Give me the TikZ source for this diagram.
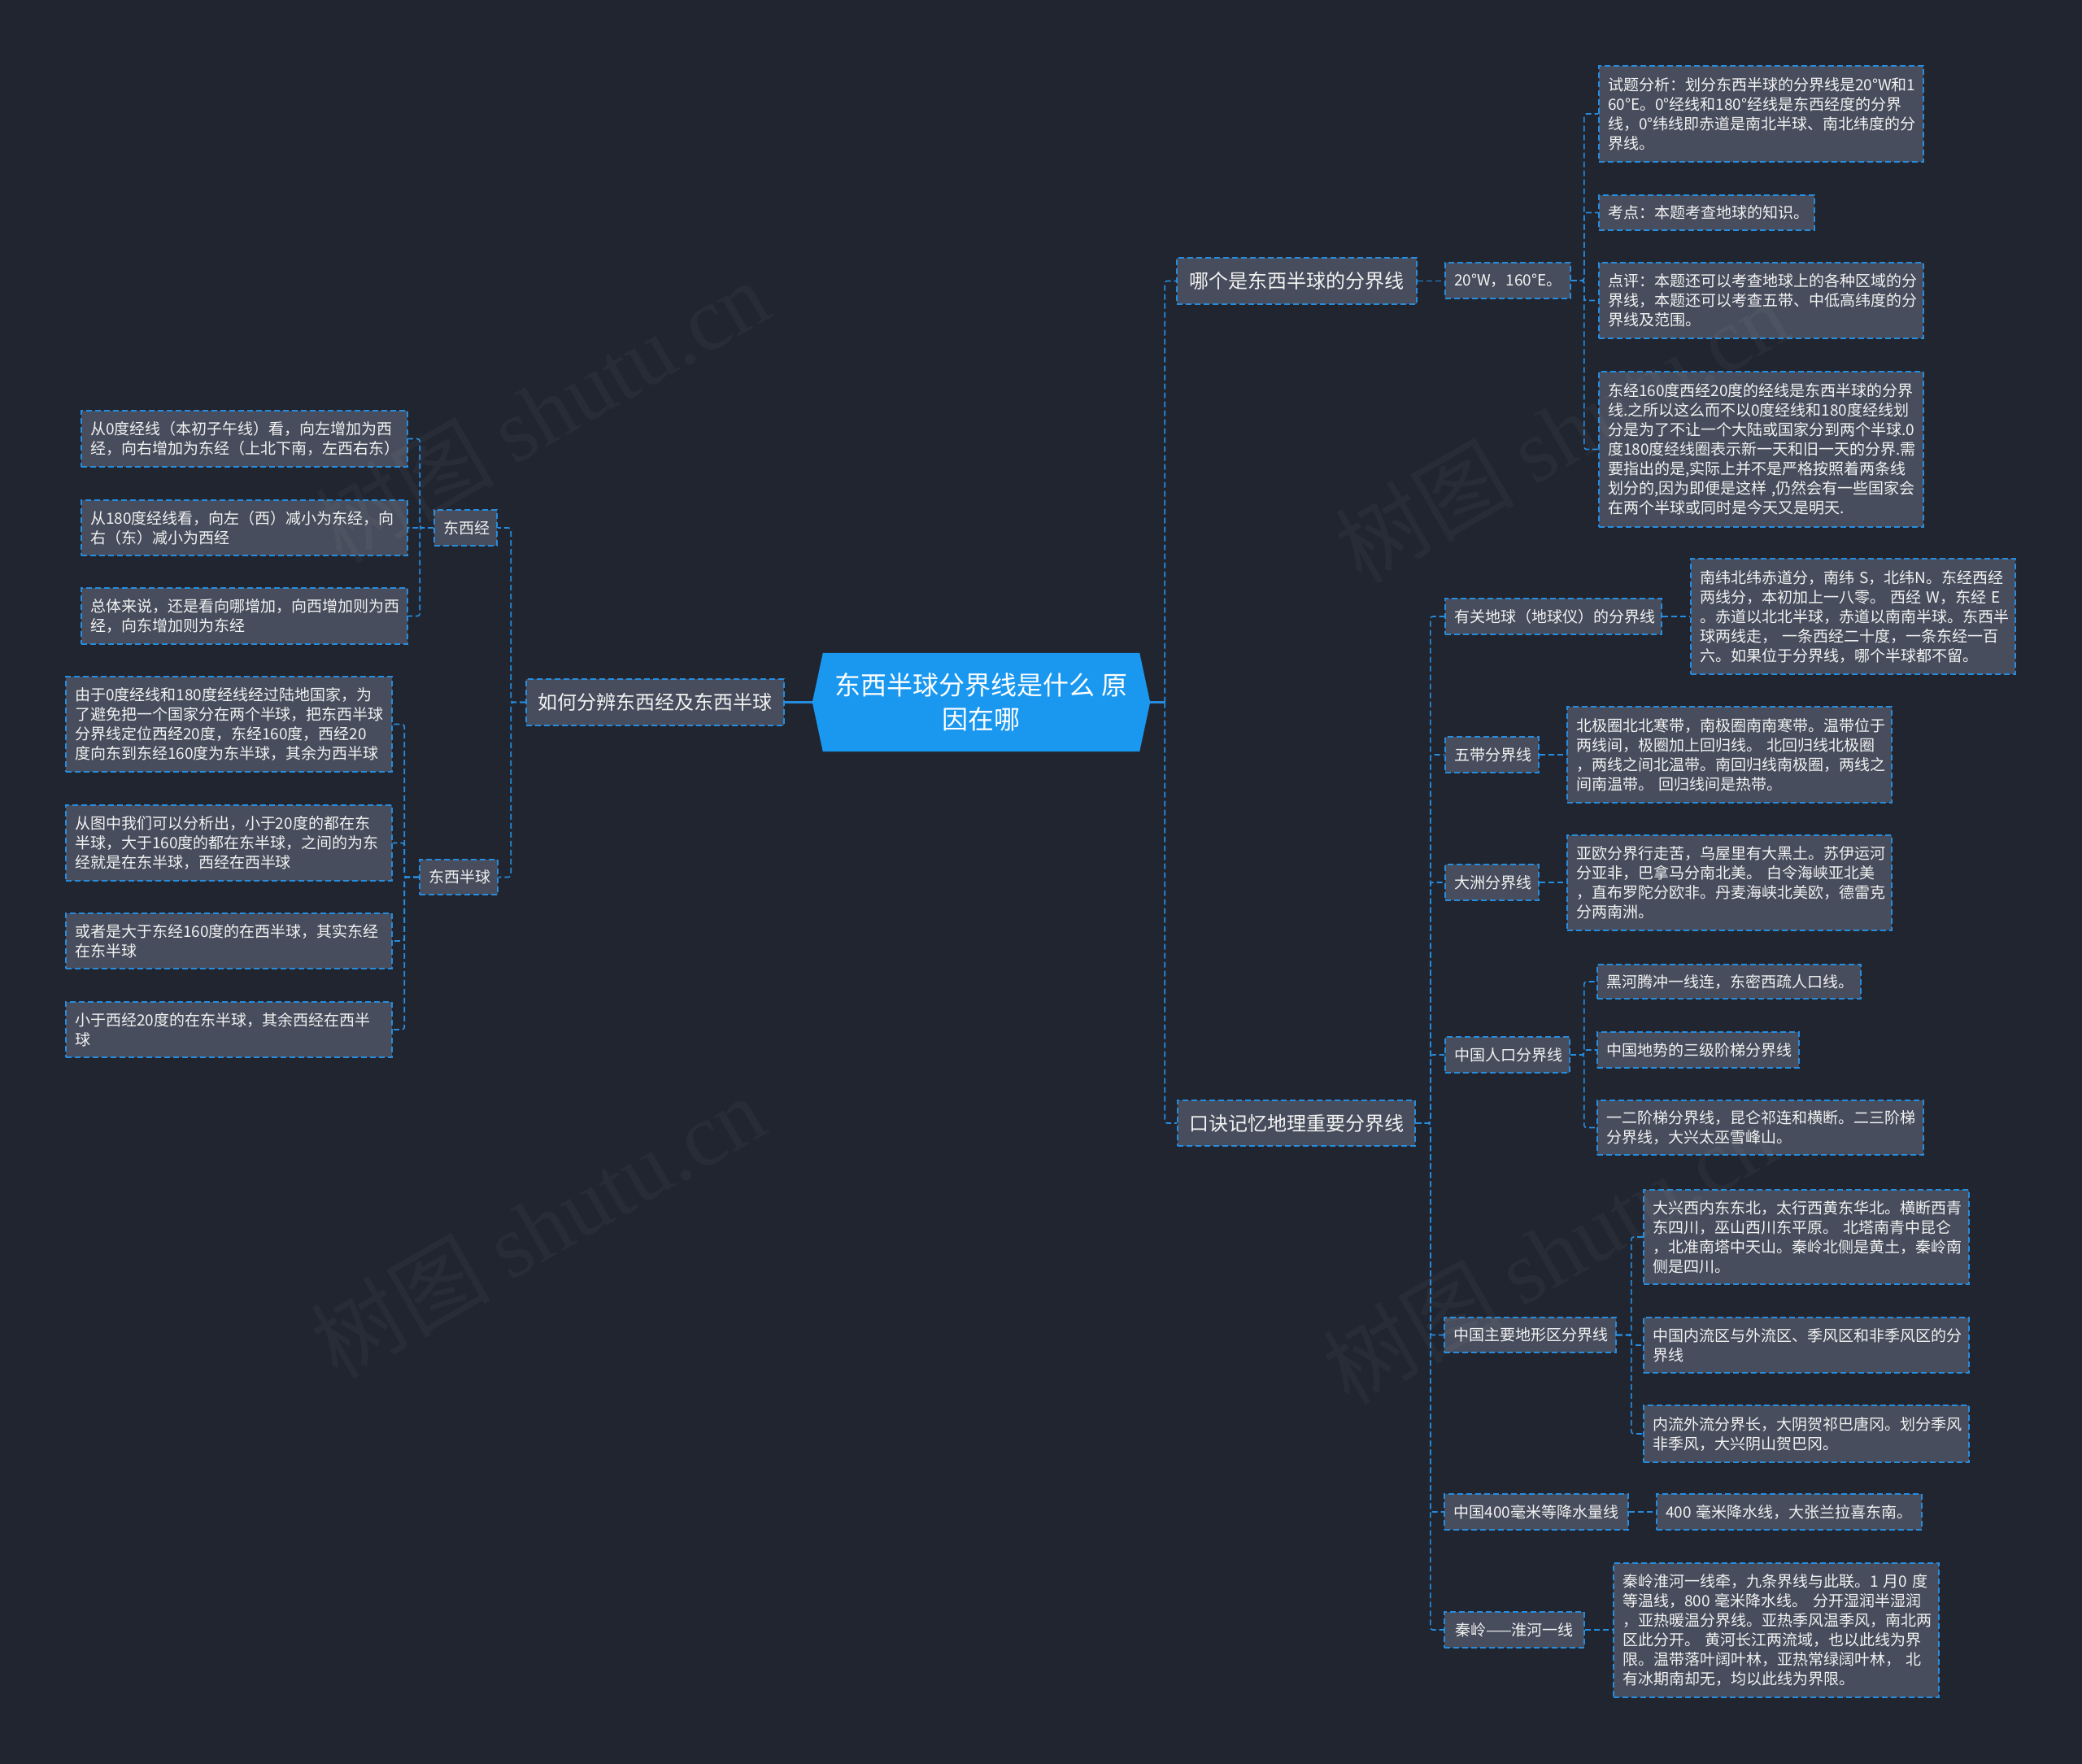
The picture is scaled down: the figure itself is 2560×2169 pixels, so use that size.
\documentclass[tikz,border=0pt]{standalone}
\usepackage{fontspec}
\setmainfont{Noto Sans CJK SC}
\newfontfamily\wmserif{Liberation Serif}
\definecolor{bgc}{RGB}{33,37,48}
\definecolor{nodefill}{RGB}{71,77,92}
\definecolor{lineblue}{RGB}{38,140,222}
\definecolor{rootc}{RGB}{26,152,240}
\definecolor{txt}{RGB}{242,242,242}
\pgfdeclarelayer{back}
\pgfdeclarelayer{mid}
\pgfsetlayers{back,mid,main}
\tikzset{
  box/.style={rectangle, draw=lineblue, fill=nodefill, line width=1.6pt,
    dash pattern=on 7pt off 4pt, text=txt, inner xsep=11pt, inner ysep=0pt},
  leaf/.style={box, align=left, font=\fontsize{19}{24}\selectfont},
  lvltwo/.style={box, align=center, font=\fontsize{19}{24}\selectfont},
  lvlone/.style={box, align=center, font=\fontsize{24}{30}\selectfont},
  rootnode/.style={rectangle, minimum width=415pt, minimum height=121pt, inner sep=0pt,
    align=center, text=white, font=\fontsize{32}{42}\selectfont},
  conn/.style={draw=lineblue, line width=1.6pt, dash pattern=on 7pt off 4pt, rounded corners=3pt},
  solidconn/.style={draw=lineblue, line width=2.6pt},
  wmark/.style={text=white, text opacity=0.035, rotate=30, font=\fontsize{110}{120}\selectfont}
}
% #1 style, #2 name, #3 x1, #4 y1, #5 x2, #6 y2, #7 text
\newcommand\mapnode[7]{%
  \pgfmathsetmacro\mnw{#5-#3}\pgfmathsetmacro\mnh{#6-#4}\pgfmathsetmacro\mnt{#5-#3-22}%
  \pgfmathsetmacro\mncx{(#3+#5)/2}\pgfmathsetmacro\mncy{(#4+#6)/2}%
  \node[#1, minimum width=\mnw pt, minimum height=\mnh pt, text width=\mnt pt] (#2) at (\mncx,\mncy) {#7};}
\begin{document}
\begin{tikzpicture}[x=1pt,y=-1pt]
\begin{pgfonlayer}{back}
\fill[bgc] (0,0) rectangle (2560,2169);
\end{pgfonlayer}
\useasboundingbox (0,0) rectangle (2560,2169);

% root
\node[rootnode] (root) at (1206.5,863.5) {东西半球分界线是什么 原\\因在哪};
\begin{pgfonlayer}{mid}
\fill[rootc] ([xshift=13pt]root.north west) -- ([xshift=-13pt]root.north east) -- (root.east)
  -- ([xshift=-13pt]root.south east) -- ([xshift=13pt]root.south west) -- (root.west) -- cycle;
\end{pgfonlayer}

% left side
\mapnode{lvlone}{n1}{647}{835}{964}{892}{如何分辨东西经及东西半球}
\mapnode{lvltwo}{dxj}{534}{627}{611}{671}{东西经}
\mapnode{lvltwo}{dxbq}{516}{1057}{612}{1100}{东西半球}
\mapnode{leaf}{a1}{100}{505}{501}{574}{从0度经线（本初子午线）看，向左增加为西\\经，向右增加为东经（上北下南，左西右东）}
\mapnode{leaf}{a2}{100}{615}{501}{683}{从180度经线看，向左（西）减小为东经，向\\右（东）减小为西经}
\mapnode{leaf}{a3}{100}{723}{501}{792}{总体来说，还是看向哪增加，向西增加则为西\\经，向东增加则为东经}
\mapnode{leaf}{b1}{81}{832}{482}{949}{由于0度经线和180度经线经过陆地国家，为\\了避免把一个国家分在两个半球，把东西半球\\分界线定位西经20度，东经160度，西经20\\度向东到东经160度为东半球，其余为西半球}
\mapnode{leaf}{b2}{81}{990}{482}{1083}{从图中我们可以分析出，小于20度的都在东\\半球，大于160度的都在东半球，之间的为东\\经就是在东半球，西经在西半球}
\mapnode{leaf}{b3}{81}{1123}{482}{1191}{或者是大于东经160度的在西半球，其实东经\\在东半球}
\mapnode{leaf}{b4}{81}{1232}{482}{1300}{小于西经20度的在东半球，其余西经在西半\\球}

% right side, first branch
\mapnode{lvlone}{r1}{1447}{317}{1742}{374}{哪个是东西半球的分界线}
\mapnode{lvltwo}{w20}{1777}{323}{1931}{367}{20°W，160°E。}
\mapnode{leaf}{t1}{1966}{81}{2365}{199}{试题分析：划分东西半球的分界线是20°W和1\\60°E。0°经线和180°经线是东西经度的分界\\线，0°纬线即赤道是南北半球、南北纬度的分\\界线。}
\mapnode{leaf}{t2}{1966}{240}{2231}{283}{考点：本题考查地球的知识。}
\mapnode{leaf}{t3}{1966}{323}{2365}{416}{点评：本题还可以考查地球上的各种区域的分\\界线，本题还可以考查五带、中低高纬度的分\\界线及范围。}
\mapnode{leaf}{t4}{1966}{457}{2365}{648}{东经160度西经20度的经线是东西半球的分界\\线.之所以这么而不以0度经线和180度经线划\\分是为了不让一个大陆或国家分到两个半球.0\\度180度经线圈表示新一天和旧一天的分界.需\\要指出的是,实际上并不是严格按照着两条线\\划分的,因为即便是这样~,仍然会有一些国家会\\在两个半球或同时是今天又是明天.}

% right side, second branch
\mapnode{lvlone}{r2}{1448}{1353}{1740}{1409}{口诀记忆地理重要分界线}
\mapnode{lvltwo}{g1}{1777}{736}{2043}{780}{有关地球（地球仪）的分界线}
\mapnode{leaf}{g1l}{2079}{687}{2478}{829}{南纬北纬赤道分，南纬~S，北纬N。东经西经\\两线分，本初加上一八零。~西经~W，东经~E\\。赤道以北北半球，赤道以南南半球。东西半\\球两线走，~一条西经二十度，一条东经一百\\六。如果位于分界线，哪个半球都不留。}
\mapnode{lvltwo}{g2}{1777}{906}{1892}{950}{五带分界线}
\mapnode{leaf}{g2l}{1927}{869}{2326}{987}{北极圈北北寒带，南极圈南南寒带。温带位于\\两线间，极圈加上回归线。~北回归线北极圈\\，两线之间北温带。南回归线南极圈，两线之\\间南温带。~回归线间是热带。}
\mapnode{lvltwo}{g3}{1777}{1063}{1892}{1107}{大洲分界线}
\mapnode{leaf}{g3l}{1927}{1027}{2326}{1144}{亚欧分界行走苦，乌屋里有大黑土。苏伊运河\\分亚非，巴拿马分南北美。~白令海峡亚北美\\，直布罗陀分欧非。丹麦海峡北美欧，德雷克\\分两南洲。}
\mapnode{lvltwo}{g4}{1777}{1275}{1930}{1319}{中国人口分界线}
\mapnode{leaf}{g4a}{1964}{1186}{2288}{1228}{黑河腾冲一线连，东密西疏人口线。}
\mapnode{leaf}{g4b}{1964}{1269}{2212}{1313}{中国地势的三级阶梯分界线}
\mapnode{leaf}{g4c}{1964}{1353}{2365}{1420}{一二阶梯分界线，昆仑祁连和横断。二三阶梯\\分界线，大兴太巫雪峰山。}
\mapnode{lvltwo}{g5}{1776}{1620}{1987}{1663}{中国主要地形区分界线}
\mapnode{leaf}{g5a}{2021}{1463}{2421}{1579}{大兴西内东东北，太行西黄东华北。横断西青\\东四川，巫山西川东平原。~北塔南青中昆仑\\，北准南塔中天山。秦岭北侧是黄土，秦岭南\\侧是四川。}
\mapnode{leaf}{g5b}{2021}{1620}{2421}{1688}{中国内流区与外流区、季风区和非季风区的分\\界线}
\mapnode{leaf}{g5c}{2021}{1728}{2421}{1798}{内流外流分界长，大阴贺祁巴唐冈。划分季风\\非季风，大兴阴山贺巴冈。}
\mapnode{lvltwo}{g6}{1776}{1837}{2002}{1881}{中国400毫米等降水量线}
\mapnode{leaf}{g6l}{2037}{1837}{2363}{1881}{400~毫米降水线，大张兰拉喜东南。}
\mapnode{lvltwo}{g7}{1776}{1982}{1948}{2026}{秦岭——淮河一线}
\mapnode{leaf}{g7l}{1984}{1922}{2384}{2087}{秦岭淮河一线牵，九条界线与此联。1~月0~度\\等温线，800~毫米降水线。~分开湿润半湿润\\，亚热暖温分界线。亚热季风温季风，南北两\\区此分开。~黄河长江两流域，也以此线为界\\限。温带落叶阔叶林，亚热常绿阔叶林，~北\\有冰期南却无，均以此线为界限。}

% connectors
\begin{pgfonlayer}{mid}
\draw[solidconn] (root.west) -- (n1.east);
\draw[solidconn] (root.east) -- ++(18,0) coordinate (bR);
\foreach \c in {dxj,dxbq} \draw[conn] (n1.west) -- ++(-18,0) |- (\c.east);
\foreach \c in {a1,a2,a3} \draw[conn] (dxj.west) -- ++(-17,0) |- (\c.east);
\foreach \c in {b1,b2,b3,b4} \draw[conn] (dxbq.west) -- ++(-18,0) |- (\c.east);
\foreach \c in {r1,r2} \draw[conn] (bR) |- (\c.west);
\draw[conn] (r1.east) -- (r1.east -| w20.west);
\foreach \c in {t1,t2,t3,t4} \draw[conn] (w20.east) -- ++(16,0) |- (\c.west);
\foreach \c in {g1,g2,g3,g4,g5,g6,g7} \draw[conn] (r2.east) -- ++(18,0) |- (\c.west);
\draw[conn] (g1.east) -- (g1.east -| g1l.west);
\draw[conn] (g2.east) -- (g2.east -| g2l.west);
\draw[conn] (g3.east) -- (g3.east -| g3l.west);
\draw[conn] (g6.east) -- (g6.east -| g6l.west);
\draw[conn] (g7.east) -- (g7.east -| g7l.west);
\foreach \c in {g4a,g4b,g4c} \draw[conn] (g4.east) -- ++(17,0) |- (\c.west);
\foreach \c in {g5a,g5b,g5c} \draw[conn] (g5.east) -- ++(18,0) |- (\c.west);
\end{pgfonlayer}

% watermarks
\node[wmark] (wm1) at (666,505) {树图 {\wmserif shutu.cn}};
\node[wmark] (wm2) at (661,1508) {树图 {\wmserif shutu.cn}};
\node[wmark] (wm3) at (1920,530) {树图 {\wmserif shutu.cn}};
\node[wmark] (wm4) at (1905,1540) {树图 {\wmserif shutu.cn}};
\end{tikzpicture}
\end{document}
